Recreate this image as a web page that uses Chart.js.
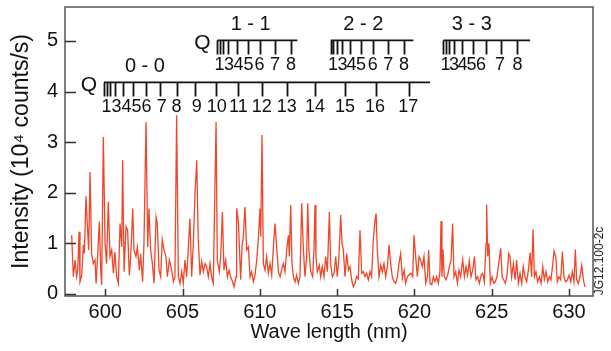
<!DOCTYPE html>
<html>
<head>
<meta charset="utf-8">
<script src="https://cdn.jsdelivr.net/npm/chart.js@4"></script>
<style>
  html, body { margin: 0; padding: 0; background: #fff; }
  #chart { display: block; }
</style>
</head>
<body>
<canvas id="chart" width="611" height="351"></canvas>
<script>
// spectrum (nm, 10^4 counts/s)
const wavelength = [
  597.83, 597.94, 598.05, 598.15, 598.22, 598.31, 598.37, 598.48, 598.59, 598.65,
  598.76, 598.84, 598.93, 599.02, 599.12, 599.23, 599.34, 599.41, 599.51, 599.62,
  599.71, 599.77, 599.88, 599.99, 600.09, 600.20, 600.31, 600.42, 600.53, 600.63,
  600.74, 600.85, 600.96, 601.07, 601.13, 601.22, 601.35, 601.45, 601.56, 601.65,
  601.78, 601.86, 601.99, 602.08, 602.21, 602.29, 602.42, 602.51, 602.64, 602.75,
  602.83, 602.94, 603.05, 603.16, 603.29, 603.37, 603.48, 603.59, 603.69, 603.80,
  603.93, 604.02, 604.15, 604.30, 604.41, 604.51, 604.62, 604.73, 604.84, 604.95,
  605.05, 605.16, 605.27, 605.38, 605.48, 605.59, 605.70, 605.81, 605.92, 606.02,
  606.13, 606.24, 606.35, 606.46, 606.56, 606.67, 606.78, 606.89, 606.99, 607.17,
  607.25, 607.38, 607.47, 607.58, 607.68, 607.79, 607.90, 608.01, 608.11, 608.24,
  608.33, 608.46, 608.50, 608.61, 608.68, 608.76, 608.85, 608.93, 609.04, 609.15,
  609.26, 609.37, 609.47, 609.58, 609.69, 609.80, 609.90, 610.01, 610.06, 610.14,
  610.23, 610.34, 610.44, 610.55, 610.66, 610.77, 610.88, 610.98, 611.09, 611.20,
  611.31, 611.41, 611.52, 611.63, 611.74, 611.85, 611.91, 612.00, 612.08, 612.17,
  612.28, 612.38, 612.49, 612.60, 612.71, 612.82, 612.92, 613.03, 613.10, 613.18,
  613.29, 613.42, 613.50, 613.57, 613.63, 613.72, 613.85, 613.94, 614.04, 614.15,
  614.26, 614.37, 614.50, 614.58, 614.69, 614.80, 614.91, 615.01, 615.12, 615.23,
  615.32, 615.40, 615.51, 615.62, 615.73, 615.83, 615.94, 616.05, 616.16, 616.26,
  616.37, 616.48, 616.59, 616.70, 616.80, 616.91, 617.02, 617.13, 617.23, 617.34,
  617.45, 617.52, 617.60, 617.71, 617.82, 617.93, 618.03, 618.14, 618.25, 618.36,
  618.46, 618.57, 618.68, 618.79, 618.90, 619.00, 619.11, 619.22, 619.33, 619.43,
  619.54, 619.65, 619.76, 619.89, 619.97, 620.08, 620.19, 620.30, 620.40, 620.51,
  620.62, 620.73, 620.84, 620.92, 621.01, 621.12, 621.22, 621.33, 621.44, 621.55,
  621.65, 621.72, 621.78, 621.85, 621.93, 622.04, 622.15, 622.26, 622.37, 622.47,
  622.56, 622.67, 622.78, 622.88, 622.99, 623.12, 623.23, 623.34, 623.44, 623.55,
  623.66, 623.77, 623.88, 623.98, 624.09, 624.20, 624.31, 624.41, 624.52, 624.63,
  624.67, 624.74, 624.82, 624.91, 625.02, 625.13, 625.23, 625.34, 625.45, 625.58,
  625.67, 625.77, 625.88, 625.99, 626.10, 626.18, 626.29, 626.40, 626.51, 626.61,
  626.72, 626.83, 626.94, 627.04, 627.15, 627.26, 627.37, 627.48, 627.58, 627.67,
  627.76, 627.86, 627.97, 628.08, 628.19, 628.30, 628.40, 628.51, 628.62, 628.73,
  628.83, 628.94, 629.03, 629.14, 629.24, 629.35, 629.46, 629.57, 629.67, 629.78,
  629.89, 630.00, 630.11, 630.21, 630.32, 630.41, 630.49, 630.60, 630.71, 630.82,
  630.93, 631.03
];
const intensity = [
  1.16, 0.34, 0.67, 0.34, 0.47, 1.23, 0.24, 0.36, 0.97, 0.80,
  1.93, 1.39, 0.87, 2.41, 0.80, 0.60, 0.67, 0.21, 0.74, 1.43,
  0.47, 0.18, 3.10, 1.00, 0.60, 1.82, 0.74, 0.87, 0.41, 0.83,
  0.34, 0.21, 1.39, 0.93, 2.64, 0.44, 1.33, 1.26, 0.37, 0.74,
  1.69, 0.87, 0.74, 0.93, 0.47, 0.80, 0.24, 1.03, 3.40, 0.93,
  1.69, 0.87, 0.60, 0.21, 1.52, 1.39, 0.47, 0.34, 1.07, 0.87,
  0.74, 0.34, 0.67, 0.47, 0.24, 0.34, 3.53, 0.34, 0.21, 0.44,
  0.21, 0.67, 0.34, 0.93, 1.49, 0.34, 1.00, 1.99, 2.64, 1.07,
  0.37, 0.64, 0.44, 0.60, 0.54, 0.34, 0.60, 0.31, 0.21, 3.40,
  0.67, 0.44, 0.74, 1.62, 0.47, 0.67, 0.34, 0.47, 0.34, 0.24,
  0.14, 0.34, 1.69, 1.46, 0.93, 0.28, 0.93, 1.13, 1.72, 0.87,
  0.93, 0.34, 0.44, 0.24, 0.37, 0.67, 1.07, 1.69, 1.13, 3.14,
  0.60, 0.47, 0.74, 0.41, 0.60, 0.37, 0.93, 1.39, 0.93, 0.44,
  0.34, 0.47, 0.60, 0.44, 0.87, 1.16, 0.74, 1.76, 0.60, 0.34,
  0.24, 0.37, 0.21, 0.34, 1.79, 0.87, 0.34, 0.74, 1.79, 0.87,
  0.44, 0.34, 0.87, 1.76, 0.74, 0.44, 0.57, 0.34, 0.54, 0.34,
  0.74, 0.44, 1.62, 0.60, 0.34, 0.41, 0.74, 0.34, 0.74, 1.56,
  1.00, 0.87, 0.34, 0.80, 0.47, 0.54, 0.28, 0.14, 0.21, 0.34,
  0.30, 1.26, 0.41, 0.44, 0.34, 0.41, 0.28, 0.44, 0.34, 1.07,
  1.46, 1.59, 0.87, 0.34, 0.57, 0.44, 0.60, 0.34, 0.54, 0.97,
  0.60, 0.34, 0.24, 0.21, 0.34, 0.60, 0.80, 0.31, 0.47, 0.21,
  0.34, 0.38, 0.41, 0.34, 1.16, 0.74, 0.34, 0.74, 0.67, 0.54,
  0.74, 0.21, 0.34, 0.87, 0.21, 0.18, 0.34, 0.24, 0.34, 0.21,
  0.44, 1.44, 0.34, 0.88, 0.34, 0.28, 0.37, 0.54, 0.67, 1.39,
  0.34, 0.44, 0.21, 0.47, 0.34, 0.68, 0.34, 0.54, 0.37, 0.66,
  0.34, 0.47, 0.74, 0.28, 0.34, 0.21, 0.37, 0.41, 0.24, 1.00,
  1.77, 0.74, 1.00, 0.21, 0.34, 0.21, 0.24, 0.34, 0.60, 0.90,
  0.34, 0.28, 0.21, 0.37, 0.80, 0.74, 0.34, 0.60, 0.28, 0.67,
  0.21, 0.41, 0.21, 0.54, 0.34, 0.24, 0.47, 0.82, 0.34, 1.28,
  0.34, 0.44, 0.24, 0.34, 0.21, 0.54, 0.28, 0.44, 0.24, 0.34,
  0.28, 0.57, 0.85, 0.74, 0.24, 0.34, 0.28, 0.84, 0.34, 0.24,
  0.28, 0.37, 0.24, 0.44, 0.24, 0.88, 0.28, 0.21, 0.34, 0.56,
  0.28, 0.14
];

const xTicks = [600, 605, 610, 615, 620, 625, 630];
const yTicks = [0, 1, 2, 3, 4, 5];

// Q-branch ladders (nm). first entry of each is the start of the ladder
const q00Lines = [599.92, 600.10, 600.31, 600.63, 601.13, 601.78, 602.64, 603.54, 604.62,
  605.81, 607.17, 608.61, 610.12, 611.78, 613.57, 615.51, 617.52, 619.67];
const q00Nums = ['1', '3', '4', '5', '6', '7', '8', '9', '10', '11', '12', '13', '14', '15', '16', '17'];
const q00NumAt = [600.08, 600.73, 601.38, 602.02, 602.67, 603.65, 604.62, 605.92, 607.21,
  608.61, 610.12, 611.74, 613.57, 615.51, 617.45, 619.60];

const q11Lines = [607.25, 607.43, 607.64, 607.96, 608.51, 609.26, 610.01, 610.98, 612.02];
const q22Lines = [614.59, 614.75, 614.97, 615.30, 615.83, 616.53, 617.34, 618.31, 619.33];
const q33Lines = [621.87, 622.04, 622.26, 622.58, 623.10, 623.81, 624.63, 625.60, 626.66];
const qNums = ['1', '3', '4', '5', '6', '7', '8'];
const q11NumAt = [607.39, 608.01, 608.62, 609.27, 609.98, 610.98, 612.02];
const q22NumAt = [614.73, 615.35, 615.93, 616.55, 617.30, 618.31, 619.33];
const q33NumAt = [622.01, 622.56, 623.11, 623.69, 624.31, 625.54, 626.66];

const bandNames = ['0 - 0', '1 - 1', '2 - 2', '3 - 3'];
const bandNameAt = [602.57, 609.41, 616.69, 623.71];
const bandEnd = [621.01, 612.43, 619.93, 627.48];
const bandLevel = [4.18, 5.01, 5.01, 5.01];
const qMarkAt = [598.95, 606.29, null, null];

const FONT = '"Liberation Sans", Arial, Helvetica, sans-serif';

const ladders = [
  { lines: q00Lines, nums: q00Nums, at: q00NumAt },
  { lines: q11Lines, nums: qNums, at: q11NumAt },
  { lines: q22Lines, nums: qNums, at: q22NumAt },
  { lines: q33Lines, nums: qNums, at: q33NumAt }
];

const framePlugin = {
  id: 'frame',
  afterDatasetsDraw(chart) {
    const { ctx, chartArea: a, scales: { x, y } } = chart;
    ctx.save();
    ctx.strokeStyle = '#555';
    ctx.lineWidth = 1.5;
    ctx.strokeRect(a.left, a.top, a.right - a.left, a.bottom - a.top);
    ctx.strokeStyle = '#333';
    ctx.beginPath();
    x.ticks.forEach(t => {
      const px = Math.round(x.getPixelForValue(t.value)) + 0.5;
      ctx.moveTo(px, a.bottom);
      ctx.lineTo(px, a.bottom - 7);
    });
    y.ticks.forEach(t => {
      const py = Math.round(y.getPixelForValue(t.value)) + 0.5;
      ctx.moveTo(a.left, py);
      ctx.lineTo(a.left + 11, py);
    });
    ctx.stroke();

    // small figure id on the right edge
    ctx.fillStyle = '#222';
    ctx.font = '12px ' + FONT;
    ctx.translate(a.right + 7, 261);
    ctx.rotate(-Math.PI / 2);
    ctx.textAlign = 'center';
    ctx.textBaseline = 'middle';
    ctx.fillText('JG12.100-2c', 0, 0);
    ctx.restore();
  }
};

const ladderPlugin = {
  id: 'ladders',
  afterDatasetsDraw(chart) {
    const { ctx, scales: { x, y } } = chart;
    ctx.save();
    ctx.strokeStyle = '#111';
    ctx.fillStyle = '#111';
    ctx.lineWidth = 1.8;
    ctx.textAlign = 'center';
    ctx.textBaseline = 'middle';
    ladders.forEach((ld, i) => {
      const py = y.getPixelForValue(bandLevel[i]);
      ctx.beginPath();
      ctx.moveTo(x.getPixelForValue(ld.lines[0]), py);
      ctx.lineTo(x.getPixelForValue(bandEnd[i]), py);
      ld.lines.forEach(v => {
        const px = Math.round(x.getPixelForValue(v)) + 0.5;
        ctx.moveTo(px, py);
        ctx.lineTo(px, py + 14);
      });
      ctx.stroke();
      ctx.font = '18px ' + FONT;
      ld.nums.forEach((n, k) => ctx.fillText(n, x.getPixelForValue(ld.at[k]), py + 25));
      ctx.font = '20px ' + FONT;
      ctx.fillText(bandNames[i], x.getPixelForValue(bandNameAt[i]), py - 16);
      if (qMarkAt[i] !== null) {
        ctx.font = '21px ' + FONT;
        ctx.fillText('Q', x.getPixelForValue(qMarkAt[i]), py + 3);
      }
    });
    ctx.restore();
  }
};

const points = wavelength.map((w, i) => ({ x: w, y: intensity[i] }));

new Chart(document.getElementById('chart'), {
  type: 'line',
  data: {
    datasets: [{
      data: points,
      borderColor: '#f0462a',
      borderWidth: 1.3,
      pointRadius: 0,
      tension: 0,
      fill: false
    }]
  },
  options: {
    responsive: false,
    animation: false,
    layout: { padding: { top: 7, right: 18, left: 0, bottom: 0 } },
    plugins: { legend: { display: false }, tooltip: { enabled: false } },
    scales: {
      x: {
        type: 'linear',
        min: 597.4,
        max: 631.55,
        afterBuildTicks: s => { s.ticks = xTicks.map(v => ({ value: v })); },
        afterFit: s => { s.height = 55; s.paddingLeft = 0; s.paddingRight = 0; },
        grid: { display: false, drawTicks: false },
        border: { display: false },
        ticks: {
          font: { family: FONT, size: 20 }, color: '#111', padding: 4,
          maxRotation: 0, autoSkip: false, callback: v => String(v)
        },
        title: {
          display: true, text: 'Wave length (nm)', color: '#111',
          font: { family: FONT, size: 20 }, padding: { top: 0, bottom: 7 }
        }
      },
      y: {
        type: 'linear',
        min: -0.04,
        max: 5.67,
        afterBuildTicks: s => { s.ticks = yTicks.map(v => ({ value: v })); },
        afterFit: s => { s.width = 65; s.paddingTop = 0; s.paddingBottom = 0; },
        grid: { display: false, drawTicks: false },
        border: { display: false },
        ticks: {
          font: { family: FONT, size: 20 }, color: '#111', padding: 7,
          autoSkip: false, callback: v => String(v)
        },
        title: {
          display: true, text: 'Intensity (10\u2074 counts/s)', color: '#111',
          font: { family: FONT, size: 23 }, padding: { top: 8, bottom: 0 }
        }
      }
    }
  },
  plugins: [framePlugin, ladderPlugin]
});
</script>
</body>
</html>
